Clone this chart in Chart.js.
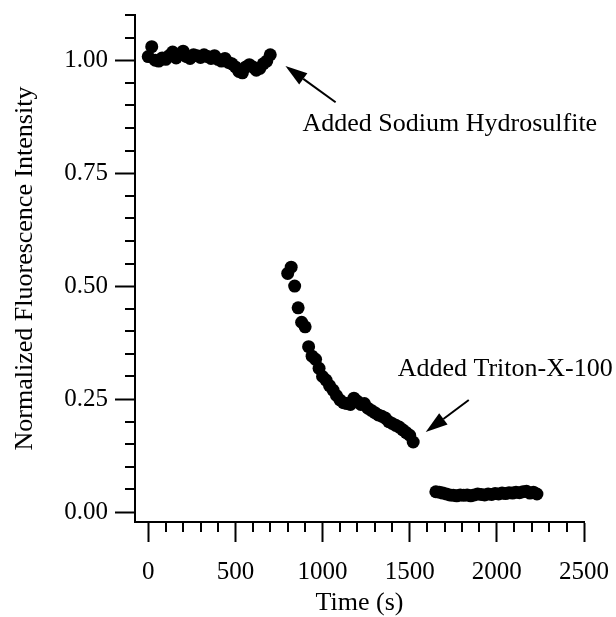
<!DOCTYPE html>
<html>
<head>
<meta charset="utf-8">
<script src="https://cdn.jsdelivr.net/npm/chart.js@4.4.1/dist/chart.umd.min.js"></script>
<style>
  html, body { margin: 0; padding: 0; background: #fff; }
</style>
</head>
<body>
<canvas id="chart" width="616" height="617"></canvas>
<script>
// before sodium hydrosulfite
const time1 = [0, 20, 40, 60, 80, 100, 120, 140, 160, 180, 200, 220, 240, 260, 280, 300, 320, 340,
               360, 380, 400, 420, 440, 460, 480, 500, 520, 540, 560, 580, 600, 620, 640, 660, 680, 700];
const intensity1 = [1.008, 1.030, 1.000, 0.998, 1.005, 1.002, 1.010, 1.018, 1.005, 1.012, 1.020, 1.008,
                    1.004, 1.012, 1.010, 1.006, 1.012, 1.008, 1.004, 1.010, 1.002, 0.998, 1.004, 0.995,
                    0.992, 0.985, 0.975, 0.972, 0.985, 0.990, 0.985, 0.978, 0.982, 0.992, 0.998, 1.012];

// decay after hydrosulfite
const time2 = [800, 820, 840, 860, 880, 900, 920, 940, 960, 980, 1000, 1020, 1040, 1060, 1080, 1100,
               1120, 1140, 1160, 1180, 1200, 1220, 1240, 1260, 1280, 1300, 1320, 1340, 1360, 1380,
               1400, 1420, 1440, 1460, 1480, 1500, 1520];
const intensity2 = [0.528, 0.542, 0.500, 0.452, 0.420, 0.410, 0.366, 0.345, 0.338, 0.318, 0.300, 0.292,
                    0.280, 0.270, 0.258, 0.248, 0.242, 0.240, 0.238, 0.252, 0.245, 0.238, 0.240, 0.230,
                    0.225, 0.220, 0.215, 0.212, 0.208, 0.200, 0.196, 0.192, 0.188, 0.182, 0.176, 0.170, 0.155];

// after triton
const time3 = [1650, 1670, 1690, 1710, 1730, 1750, 1770, 1790, 1810, 1830, 1850, 1870, 1890, 1910, 1930,
               1950, 1970, 1990, 2010, 2030, 2050, 2070, 2090, 2110, 2130, 2150, 2170, 2190, 2210, 2230];
const intensity3 = [0.045, 0.044, 0.042, 0.040, 0.038, 0.037, 0.036, 0.038, 0.037, 0.038, 0.036, 0.038,
                    0.040, 0.039, 0.038, 0.040, 0.039, 0.041, 0.040, 0.042, 0.041, 0.043, 0.042, 0.044,
                    0.043, 0.045, 0.046, 0.042, 0.044, 0.040];

const xTicks = [0, 500, 1000, 1500, 2000, 2500];
const yTicks = [0, 0.25, 0.5, 0.75, 1.0];
const xMinor = [100, 200, 300, 400, 600, 700, 800, 900, 1100, 1200, 1300, 1400,
                1600, 1700, 1800, 1900, 2100, 2200, 2300, 2400];
const yMinor = [0.05, 0.10, 0.15, 0.20, 0.30, 0.35, 0.40, 0.45, 0.55, 0.60, 0.65, 0.70,
                0.80, 0.85, 0.90, 0.95, 1.05, 1.10];

// annotations (data coords): text anchor, arrow tail, arrow tip
const notes = [
  { text: 'Added Sodium Hydrosulfite', tx: 885, ty: 0.843, x1: 1075, y1: 0.907, x2: 787, y2: 0.987 },
  { text: 'Added Triton-X-100', tx: 1431, ty: 0.302, x1: 1839, y1: 0.248, x2: 1592, y2: 0.177 }
];

const FONT = 'Liberation Serif, Times New Roman, serif';

function pts(xs, ys) {
  return xs.map((x, i) => ({ x: x, y: ys[i] }));
}

function dotSet(data) {
  return { data: data, pointRadius: 6.5, pointBackgroundColor: '#000', pointBorderWidth: 0, showLine: false };
}

/* ===== minor ticks + arrows ===== */
const extras = {
  id: 'extras',
  afterDraw(chart) {
    const c = chart.ctx;
    const xs = chart.scales.x, ys = chart.scales.y;
    const a = chart.chartArea;
    c.save();
    c.strokeStyle = '#000';
    c.lineWidth = 2;
    c.beginPath();
    xMinor.forEach(v => {
      const px = Math.round(xs.getPixelForValue(v));
      c.moveTo(px, a.bottom);
      c.lineTo(px, a.bottom + 10);
    });
    yMinor.forEach(v => {
      const py = Math.round(ys.getPixelForValue(v));
      c.moveTo(a.left, py);
      c.lineTo(a.left - 10, py);
    });
    c.stroke();

    c.fillStyle = '#000';
    c.font = '26px ' + FONT;
    c.textBaseline = 'alphabetic';
    notes.forEach(n => {
      c.fillText(n.text, xs.getPixelForValue(n.tx), ys.getPixelForValue(n.ty));
      const x1 = xs.getPixelForValue(n.x1), y1 = ys.getPixelForValue(n.y1);
      const x2 = xs.getPixelForValue(n.x2), y2 = ys.getPixelForValue(n.y2);
      const ang = Math.atan2(y2 - y1, x2 - x1);
      const hl = 22, hw = 7;
      const bx = x2 - hl * Math.cos(ang), by = y2 - hl * Math.sin(ang);
      c.beginPath();
      c.moveTo(x1, y1);
      c.lineTo(bx, by);
      c.stroke();
      c.beginPath();
      c.moveTo(x2, y2);
      c.lineTo(bx + hw * Math.sin(ang), by - hw * Math.cos(ang));
      c.lineTo(bx - hw * Math.sin(ang), by + hw * Math.cos(ang));
      c.closePath();
      c.fill();
    });
    c.restore();
  }
};

new Chart(document.getElementById('chart'), {
  type: 'scatter',
  data: {
    datasets: [dotSet(pts(time1, intensity1)), dotSet(pts(time2, intensity2)), dotSet(pts(time3, intensity3))]
  },
  options: {
    responsive: false,
    animation: false,
    devicePixelRatio: 1,
    events: [],
    layout: { padding: { top: 15, right: 32, left: 0, bottom: 0 } },
    plugins: { legend: { display: false }, tooltip: { enabled: false } },
    scales: {
      x: {
        type: 'linear',
        min: -76,
        max: 2500,
        afterBuildTicks: s => { s.ticks = xTicks.map(v => ({ value: v })); },
        afterFit: s => { s.height = 95; s.paddingLeft = 0; s.paddingRight = 0; },
        ticks: { color: '#000', font: { family: FONT, size: 25 }, padding: 15, maxRotation: 0,
                 callback: v => String(v) },
        grid: { drawOnChartArea: false, tickLength: 20, tickWidth: 2, tickColor: '#000' },
        border: { color: '#000', width: 2 },
        title: { display: true, text: 'Time (s)', color: '#000', font: { family: FONT, size: 26 },
                 padding: { top: 2, bottom: -2 } }
      },
      y: {
        min: -0.022,
        max: 1.1,
        afterBuildTicks: s => { s.ticks = yTicks.map(v => ({ value: v })); },
        afterFit: s => { s.width = 135; s.paddingTop = 0; s.paddingBottom = 0; },
        ticks: { color: '#000', font: { family: FONT, size: 25 }, padding: 7,
                 callback: v => v.toFixed(2) },
        grid: { drawOnChartArea: false, tickLength: 20, tickWidth: 2, tickColor: '#000' },
        border: { color: '#000', width: 2 },
        title: { display: true, text: 'Normalized Fluorescence Intensity', color: '#000',
                 font: { family: FONT, size: 26 }, padding: { top: 10, bottom: 0 } }
      }
    }
  },
  plugins: [extras]
});
</script>
</body>
</html>
